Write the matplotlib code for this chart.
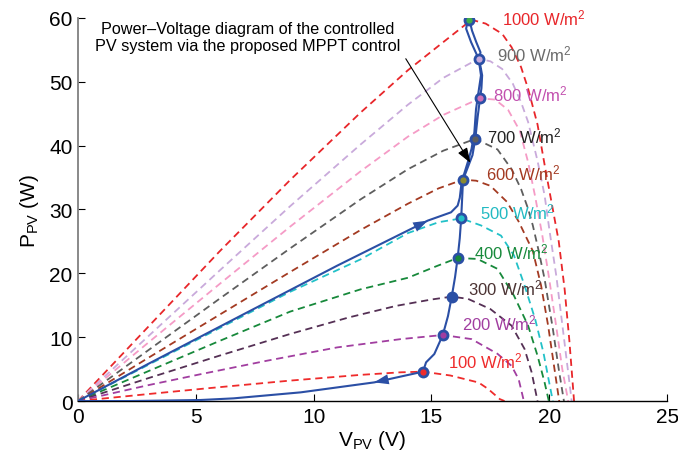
import numpy as np
import matplotlib.pyplot as plt

plt.rcParams['font.family'] = ['Liberation Sans', 'DejaVu Sans']
plt.rcParams['mathtext.fontset'] = 'custom'
plt.rcParams['mathtext.rm'] = 'Liberation Sans'

# P-V curves, one per irradiance level (W/m^2)
irr = [1000, 900, 800, 700, 600, 500, 400, 300, 200, 100]

v1000 = [0, 3, 6, 9, 12, 14, 15.5, 16.7, 17.3, 18.0, 18.4, 18.8, 19.1, 19.5, 19.8, 20.1, 20.4, 20.65, 20.85, 21.05]
p1000 = [0, 11.7, 23.4, 34.6, 45.2, 51.8, 56.2, 59.7, 59.1, 57.5, 55.4, 52.3, 48.9, 43.3, 37.0, 31.0, 25.0, 17.5, 9.5, 0]

v900 = [0, 3, 6, 9, 12, 14, 15.5, 17.0, 17.5, 18.0, 18.45, 18.8, 19.1, 19.5, 19.8, 20.0, 20.3, 20.55, 20.75, 20.95]
p900 = [0, 10.2, 20.4, 30.5, 40.2, 46.4, 50.6, 53.6, 53.2, 52.0, 49.7, 46.8, 43.7, 37.6, 32.2, 26.9, 19.5, 12.0, 6.0, 0]

v800 = [0, 3, 6, 9, 12, 14, 15.5, 17.06, 17.7, 18.25, 18.75, 19.1, 19.4, 19.7, 20.0, 20.3, 20.55, 20.8]
p800 = [0, 9.2, 18.3, 27.3, 36.0, 41.4, 44.8, 47.4, 47.2, 45.6, 42.3, 37.4, 32.0, 26.0, 19.0, 11.5, 5.0, 0]

v700 = [0, 3, 6, 9, 12, 14, 15.5, 16.86, 17.8, 18.4, 18.8, 19.1, 19.3, 19.55, 19.8, 20.15, 20.4, 20.62]
p700 = [0, 8.0, 16.0, 23.9, 31.6, 36.3, 39.2, 41.05, 39.4, 36.3, 33.2, 30.1, 27.5, 23.5, 19.1, 11.3, 5.0, 0]

v600 = [0, 3, 6, 9, 12, 14, 15.3, 16.34, 16.9, 17.5, 18.2, 18.7, 19.0, 19.3, 19.65, 19.95, 20.2, 20.42]
p600 = [0, 6.8, 13.5, 20.2, 26.8, 30.9, 33.3, 34.67, 34.5, 33.7, 31.2, 28.1, 25.8, 23.5, 18.1, 11.8, 5.5, 0]

v500 = [0, 3, 6, 9, 12, 14, 15.3, 16.26, 17.1, 17.95, 18.5, 18.95, 19.4, 19.75, 20.0, 20.15]
p500 = [0, 5.7, 11.4, 17.1, 22.2, 26.3, 28.0, 28.6, 27.5, 25.9, 22.8, 18.1, 12.8, 7.6, 2.8, 0]

v400 = [0, 3, 6, 9, 12, 14, 15.2, 16.11, 16.95, 17.8, 18.5, 19.1, 19.5, 19.8, 19.98]
p400 = [0, 4.7, 9.4, 14.0, 17.5, 19.3, 21.1, 22.4, 22.25, 20.7, 16.5, 11.8, 7.1, 2.9, 0]

v300 = [0, 3, 6, 9, 11.5, 13.5, 15, 15.86, 16.55, 17.5, 18.4, 18.95, 19.25, 19.5]
p300 = [0, 3.6, 7.1, 10.5, 13.1, 14.9, 15.9, 16.35, 16.0, 14.4, 11.8, 8.15, 4.5, 0]

v200 = [0, 3, 5.2, 8, 11, 13.7, 15.48, 16.7, 17.8, 18.4, 18.7, 18.92]
p200 = [0, 2.5, 4.2, 6.3, 8.4, 9.7, 10.34, 9.7, 7.4, 5.5, 3.4, 0]

v100 = [0, 3, 5.5, 9, 12, 13.7, 14.64, 15.8, 17.0, 17.4, 17.9, 18.1]
p100 = [0, 1.1, 2.0, 3.2, 4.1, 4.5, 4.6, 4.0, 2.9, 1.9, 0.3, 0]

curves_v = [v1000, v900, v800, v700, v600, v500, v400, v300, v200, v100]
curves_p = [p1000, p900, p800, p700, p600, p500, p400, p300, p200, p100]

curve_colors = ['#e8262a', '#c9aadb', '#f59bc6', '#5e5e5e', '#a33a22',
                '#22c1c8', '#17893b', '#553055', '#a13ea0', '#ef2b2b']
label_colors = ['#e8262a', '#6b6b6b', '#c24fae', '#222222', '#a33a22',
                '#22bac2', '#17893b', '#4b3333', '#a13ea0', '#ef2b2b']

# maximum power points reached by the controller
mpp_v = [16.61, 17.02, 17.06, 16.86, 16.34, 16.26, 16.11, 15.86, 15.48, 14.64]
mpp_p = [59.7, 53.6, 47.4, 41.05, 34.67, 28.6, 22.4, 16.35, 10.34, 4.6]
mpp_face = ['#3fae49', '#c9aadb', '#d070b8', '#5e5e5e', '#8a8a30',
            '#22c1c8', '#17893b', '#2b4fa5', '#a13ea0', '#ef2b2b']

# label anchor positions (left edge, vertical centre)
lab_v = [17.98, 17.79, 17.6, 17.36, 17.32, 17.06, 16.82, 16.54, 16.3, 15.69]
lab_p = [60.1, 54.4, 48.1, 41.6, 35.8, 29.7, 23.4, 17.8, 12.3, 6.3]

# controlled operating point trajectory
traj_v = [0, 3, 7.32, 11, 14.84, 15.83, 16.11, 16.2, 16.28, 16.54, 16.7, 16.82, 16.89,
          17.0, 17.1, 17.0, 16.68, 16.47, 16.54, 16.61,
          16.72, 16.9, 17.08, 17.02, 17.15, 17.12, 17.06, 16.96, 16.86, 16.74, 16.5,
          16.34, 16.3, 16.26, 16.2, 16.11, 16.0, 15.86, 15.7, 15.48, 15.12, 14.77,
          14.64, 12.57, 9.45, 6.6, 5.19, 2.2, 0]
traj_p = [0, 5.85, 14.15, 21.2, 28.25, 29.55, 30.6, 31.8, 34.3, 37.4, 39.5, 42.1, 45.7,
          48.5, 51.0, 53.6, 56.2, 58.3, 59.6, 59.7,
          58.0, 56.2, 54.6, 53.6, 51.0, 49.0, 47.4, 44.5, 41.05, 38.5, 36.2,
          34.67, 31.6, 28.6, 25.5, 22.4, 19.4, 16.35, 13.3, 10.34, 7.36, 6.06,
          4.6, 2.92, 1.36, 0.42, 0.16, 0.0, 0]
arrow_idx = [4, 43]

blue = '#2b4fa5'

fig = plt.figure(figsize=(6.78, 4.6), dpi=100)
ax = fig.add_axes([0.115, 0.126, 0.869, 0.833])

for v, p, c in zip(curves_v, curves_p, curve_colors):
    ax.plot(v, p, color=c, lw=1.3, dashes=(4, 2.6))

ax.plot(traj_v, traj_p, color=blue, lw=1.5, zorder=5)
for i in arrow_idx:
    ax.annotate('', xy=(traj_v[i], traj_p[i]), xytext=(traj_v[i - 1], traj_p[i - 1]),
                arrowprops=dict(arrowstyle='-|>,head_length=0.8,head_width=0.28',
                                color=blue, lw=0, mutation_scale=13,
                                shrinkA=0, shrinkB=0), zorder=6)

for v, p, fc in zip(mpp_v, mpp_p, mpp_face):
    ax.plot(v, p, 'o', ms=6.5, mfc=fc, mec=blue, mew=2.0, zorder=7)

for g, x, y, c in zip(irr, lab_v, lab_p, label_colors):
    ax.text(x, y, f'{g} W/m$\\mathregular{{^2}}$', color=c, fontsize=12,
            ha='left', va='center', zorder=4)

ax.text(7.2, 57.0, 'Power\u2013Voltage diagram of the controlled\nPV system via the proposed MPPT control',
        ha='center', va='center', fontsize=11.7, linespacing=1.2, zorder=8)
ax.annotate('', xy=(16.65, 37.3), xytext=(13.91, 53.6),
            arrowprops=dict(arrowstyle='-|>,head_length=0.7,head_width=0.25',
                            color='black', lw=0.8, mutation_scale=13,
                            shrinkA=0, shrinkB=0),
            zorder=8)

ax.set_xlim(0, 25)
ax.set_ylim(0, 60)
ax.set_xticks(np.arange(0, 26, 5))
ax.set_yticks(np.arange(0, 61, 10))
ax.tick_params(direction='in', length=5, labelsize=15, pad=4)
ax.spines['top'].set_visible(False)
ax.spines['right'].set_visible(False)
ax.spines['left'].set_color('#808080')
ax.spines['left'].set_linewidth(1.3)
ax.spines['bottom'].set_linewidth(1.0)
ax.set_xlabel(r'$\mathregular{V_{PV}}$ (V)', fontsize=15, labelpad=2)
ax.set_ylabel(r'$\mathregular{P_{PV}}$ (W)', fontsize=15, labelpad=6)

fig.savefig('out.png', dpi=100)
